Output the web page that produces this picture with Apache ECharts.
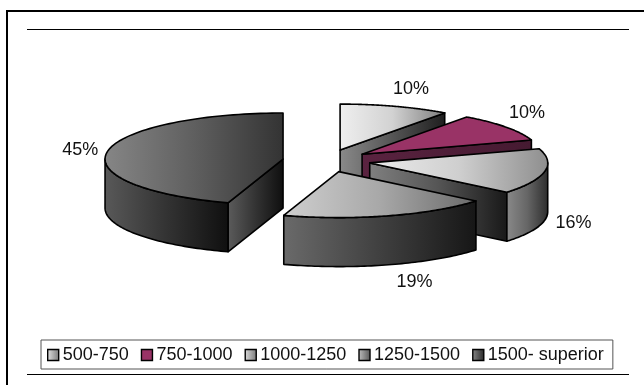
<!DOCTYPE html>
<html>
<head>
<meta charset="utf-8">
<style>
  html, body { margin: 0; padding: 0; background: #fff; }
  #chart { width: 644px; height: 385px; }
</style>
<script src="https://cdn.jsdelivr.net/npm/echarts@6/dist/echarts.min.js"></script>
</head>
<body>
<div id="chart"></div>
<script>
// Share of respondents per range, in percent
const categories = ['500-750', '750-1000', '1000-1250', '1250-1500', '1500- superior'];
const shares = [10, 10, 16, 19, 45];

// Gradient stops per slice: top face, front radial wall, outer rim wall, legend swatch
const topFills = [
  ['#efefef', '#d2d2d2', '#7c7c7c'],
  ['#993366', '#993366', '#993366'],
  ['#ececec', '#cfcfcf', '#8e8e8e'],
  ['#cfcfcf', '#a8a8a8', '#6a6a6a'],
  ['#868686', '#5f5f5f', '#333333']
];
const radialFills = [
  ['#8a8a8a', '#555555', '#1e1e1e'],
  ['#5a2340', '#4f1e38', '#451a31'],
  ['#808080', '#555555', '#181818'],
  ['#6a6a6a', '#404040', '#151515'],
  ['#5c5c5c', '#333333', '#0e0e0e']
];
const rimFills = [
  ['#777777', '#555555', '#222222'],
  ['#5a2340', '#4f1e38', '#451a31'],
  ['#8a8a8a', '#666666', '#2c2c2c'],
  ['#6a6a6a', '#404040', '#161616'],
  ['#595959', '#333333', '#0f0f0f']
];
const swatchFills = [
  ['#e4e4e4', '#777777'],
  ['#993366', '#993366'],
  ['#dddddd', '#777777'],
  ['#c0c0c0', '#555555'],
  ['#8a8a8a', '#262626']
];

// Projected pie: centre, radii, extrusion depth and how far slices are pulled out
const pie = { cx: 326.5, cy: 160.8, rx: 178, ry: 46, depth: 49, pullX: 44, pullY: 11.25 };
// Label offsets from the outer rim point at each slice's middle angle
const labelOffsets = [[16, -17], [21, -14], [29, 3], [26, 17], [-27, -2]];

const total = shares.reduce((a, b) => a + b, 0);
const starts = shares.map((_, i) => shares.slice(0, i).reduce((a, b) => a + b, 0) / total * Math.PI * 2);
const ends = shares.map((v, i) => starts[i] + v / total * Math.PI * 2);

const hGradient = (stops) => new echarts.graphic.LinearGradient(0, 0, 1, 0,
  stops.map((color, i) => ({ offset: i / (stops.length - 1), color })));

// Slices further back are painted first
const depthOrder = shares.map((_, i) => i)
  .sort((a, b) => Math.cos((starts[b] + ends[b]) / 2) - Math.cos((starts[a] + ends[a]) / 2));

function renderSlice(params, api) {
  const i = params.seriesIndex;
  const a0 = starts[i];
  const a1 = a0 + api.value(0) / total * Math.PI * 2;
  const mid = (a0 + a1) / 2;
  const ax = pie.cx + pie.pullX * Math.sin(mid);
  const ay = pie.cy - pie.pullY * Math.cos(mid);
  const rim = (t) => [ax + pie.rx * Math.sin(t), ay - pie.ry * Math.cos(t)];
  const drop = (p) => [p[0], p[1] + pie.depth];
  const line = { stroke: '#000', lineWidth: 1.6, lineJoin: 'round' };
  const children = [];

  const poly = (points, stops) => children.push({
    type: 'polygon',
    shape: { points },
    style: Object.assign({ fill: hGradient(stops) }, line)
  });

  // Radial walls: only the ones turned toward the viewer
  if (Math.sin(a1) > 1e-6) {
    const e = rim(a1);
    poly([[ax, ay], e, drop(e), [ax, ay + pie.depth]], radialFills[i]);
  }
  if (Math.sin(a0) < -1e-6) {
    const e = rim(a0);
    poly([[ax, ay], e, drop(e), [ax, ay + pie.depth]], radialFills[i]);
  }

  // Curved outer wall on the front half of the ellipse
  const from = Math.max(a0, Math.PI / 2);
  const to = Math.min(a1, Math.PI * 1.5);
  if (to > from) {
    const upper = [];
    for (let k = 0; k <= 60; k++) upper.push(rim(from + (to - from) * k / 60));
    poly(upper.concat(upper.slice().reverse().map(drop)), rimFills[i]);
  }

  // Top face
  const top = [[ax, ay]];
  for (let k = 0; k <= 90; k++) top.push(rim(a0 + (a1 - a0) * k / 90));
  poly(top, topFills[i]);

  // Percentage label, outside the rim
  const anchor = rim(mid);
  const low = Math.cos(mid) < 0;
  children.push({
    type: 'text',
    style: {
      x: anchor[0] + labelOffsets[i][0],
      y: anchor[1] + (low ? pie.depth : 0) + labelOffsets[i][1],
      text: api.value(0) + '%',
      textAlign: 'center',
      textVerticalAlign: 'middle',
      fontFamily: '"Liberation Sans", Arial, sans-serif',
      fontSize: 18,
      fill: '#111'
    }
  });

  return { type: 'group', children };
}

const chart = echarts.init(document.getElementById('chart'), null, { renderer: 'canvas' });
chart.setOption({
  animation: false,
  backgroundColor: '#fff',
  graphic: [
    // Sheet frame and the two rules
    { type: 'line', shape: { x1: 7, y1: 11, x2: 644, y2: 11 }, style: { stroke: '#000', lineWidth: 2 }, z: 1 },
    { type: 'line', shape: { x1: 7, y1: 10, x2: 7, y2: 385 }, style: { stroke: '#000', lineWidth: 2 }, z: 1 },
    { type: 'line', shape: { x1: 27, y1: 29.5, x2: 629, y2: 29.5 }, style: { stroke: '#000', lineWidth: 1 }, z: 1 },
    { type: 'line', shape: { x1: 27, y1: 374.5, x2: 629, y2: 374.5 }, style: { stroke: '#000', lineWidth: 1 }, z: 1 }
  ],
  legend: {
    left: 41,
    top: 340,
    padding: [6, 9, 5, 6],
    itemWidth: 11,
    itemHeight: 11,
    itemGap: 12,
    selectedMode: false,
    borderColor: '#555',
    borderWidth: 1,
    backgroundColor: '#fff',
    textStyle: {
      fontFamily: '"Liberation Sans", Arial, sans-serif',
      fontSize: 18,
      lineHeight: 18,
      color: '#111',
      padding: [0, 0, 0, -1]
    },
    data: categories.map((name, i) => ({
      name,
      icon: 'rect',
      itemStyle: { color: hGradient(swatchFills[i]), borderColor: '#000', borderWidth: 1.4 }
    }))
  },
  series: categories.map((name, i) => ({
    type: 'custom',
    name,
    coordinateSystem: 'none',
    z: 2 + depthOrder.indexOf(i),
    silent: true,
    renderItem: renderSlice,
    itemStyle: { color: hGradient(swatchFills[i]) },
    data: [[shares[i]]]
  }))
});
</script>
</body>
</html>
